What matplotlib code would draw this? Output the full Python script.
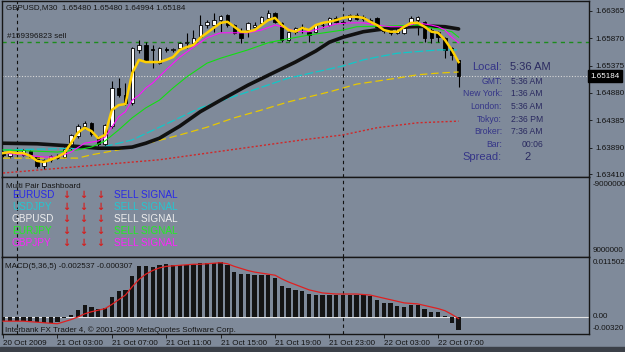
import numpy as np
import matplotlib
matplotlib.use("Agg")
import matplotlib.pyplot as plt
from matplotlib.patches import Rectangle

plt.rcParams['font.family'] = ['Liberation Sans', 'DejaVu Sans']

# =========================
# Data
# =========================
opens = [1.6378, 1.6373, 1.6379, 1.6376, 1.6383, 1.6372, 1.6355, 1.6366, 1.6373, 1.6372,
         1.6388, 1.6410, 1.6428, 1.6433, 1.6408, 1.6396, 1.6428, 1.6497, 1.6484, 1.6470,
         1.6566, 1.6575, 1.6568, 1.6542, 1.6567, 1.6566, 1.6569, 1.6578, 1.6579, 1.6589,
         1.6611, 1.6611, 1.6620, 1.6629, 1.6611, 1.6597, 1.6602, 1.6607, 1.6614, 1.6624,
         1.6633, 1.6615, 1.6584, 1.6598, 1.6605, 1.6599, 1.6599, 1.6611, 1.6611, 1.6624,
         1.6617, 1.6620, 1.6629, 1.6622, 1.6621, 1.6624, 1.6606, 1.6606, 1.6597, 1.6597,
         1.6611, 1.6621, 1.6617, 1.6602, 1.6598, 1.6588, 1.6570, 1.6548]
highs = [1.6382, 1.6380, 1.6384, 1.6386, 1.6385, 1.6374, 1.6368, 1.6376, 1.6378, 1.6390,
         1.6413, 1.6431, 1.6438, 1.6435, 1.6410, 1.6432, 1.6510, 1.6515, 1.6506, 1.6572,
         1.6584, 1.6580, 1.6575, 1.6571, 1.6572, 1.6570, 1.6581, 1.6597, 1.6602, 1.6629,
         1.6620, 1.6633, 1.6630, 1.6631, 1.6613, 1.6606, 1.6617, 1.6616, 1.6627, 1.6638,
         1.6635, 1.6617, 1.6600, 1.6608, 1.6613, 1.6601, 1.6613, 1.6615, 1.6626, 1.6627,
         1.6620, 1.6631, 1.6632, 1.6629, 1.6624, 1.6626, 1.6607, 1.6608, 1.6608, 1.6610,
         1.6627, 1.6628, 1.6619, 1.6605, 1.6600, 1.6590, 1.6572, 1.6548]
lows = [1.6372, 1.6370, 1.6375, 1.6373, 1.6370, 1.6352, 1.6351, 1.6363, 1.6368, 1.6370,
        1.6385, 1.6406, 1.6422, 1.6410, 1.6392, 1.6392, 1.6424, 1.6481, 1.6467, 1.6467,
        1.6560, 1.6545, 1.6533, 1.6540, 1.6562, 1.6563, 1.6566, 1.6569, 1.6576, 1.6587,
        1.6606, 1.6598, 1.6598, 1.6608, 1.6595, 1.6579, 1.6590, 1.6603, 1.6612, 1.6622,
        1.6615, 1.6580, 1.6582, 1.6595, 1.6597, 1.6580, 1.6597, 1.6606, 1.6609, 1.6615,
        1.6611, 1.6618, 1.6620, 1.6619, 1.6615, 1.6606, 1.6596, 1.6593, 1.6595, 1.6595,
        1.6609, 1.6593, 1.6580, 1.6579, 1.6580, 1.6551, 1.6547, 1.64994]
closes = [1.6375, 1.6379, 1.6377, 1.6384, 1.6372, 1.6356, 1.6366, 1.6373, 1.6371, 1.6387,
          1.6411, 1.6428, 1.6433, 1.6413, 1.6396, 1.6430, 1.6497, 1.6484, 1.6470, 1.6570,
          1.6575, 1.6548, 1.6565, 1.6569, 1.6566, 1.6568, 1.6578, 1.6580, 1.6588, 1.6611,
          1.6617, 1.6620, 1.6628, 1.6611, 1.6597, 1.6588, 1.6615, 1.6612, 1.6625, 1.6633,
          1.6617, 1.6584, 1.6598, 1.6606, 1.6608, 1.6593, 1.6611, 1.6612, 1.6624, 1.6617,
          1.6615, 1.6629, 1.6622, 1.6626, 1.6619, 1.6608, 1.6600, 1.6597, 1.6606, 1.6608,
          1.6624, 1.6625, 1.6588, 1.6588, 1.6589, 1.6566, 1.6557, 1.65184]

# fast yellow MA, one value per bar
ma_yellow = [1.6379, 1.6381, 1.6379, 1.6379, 1.6374, 1.6365, 1.6363, 1.6367, 1.6372, 1.6379,
             1.6397, 1.6416, 1.6425, 1.6419, 1.6406, 1.6412, 1.6457, 1.6466, 1.6468, 1.6524,
             1.6548, 1.6544, 1.6544, 1.6544, 1.6548, 1.6553, 1.6566, 1.6571, 1.6575, 1.6588,
             1.6597, 1.6606, 1.6615, 1.6617, 1.6608, 1.6599, 1.6599, 1.6602, 1.6611, 1.6620,
             1.6624, 1.6611, 1.6602, 1.6599, 1.6606, 1.6602, 1.6611, 1.6615, 1.6617, 1.6620,
             1.6624, 1.6626, 1.6626, 1.6624, 1.6617, 1.6611, 1.6602, 1.6599, 1.6599, 1.6608,
             1.6615, 1.6615, 1.6608, 1.6599, 1.6597, 1.6584, 1.6566, 1.6544]

# slower MAs, read at a few bars each
magenta_x = [0, 3, 6, 8, 10, 12, 14, 15, 16, 17, 18, 19, 20, 21, 22, 24, 26, 28, 30, 32,
             34, 36, 38, 40, 41, 43, 45, 47, 49, 51, 53, 55, 57, 59, 61, 63, 64, 65, 66, 67]
magenta_y = [1.6379, 1.6376, 1.6372, 1.6372, 1.6381, 1.6397, 1.6401, 1.6408, 1.6426, 1.6445,
             1.6454, 1.6475, 1.6484, 1.6497, 1.6506, 1.6530, 1.6553, 1.6571, 1.6588, 1.6597,
             1.6597, 1.6597, 1.6602, 1.6611, 1.6608, 1.6600, 1.6599, 1.6606, 1.6613, 1.6615,
             1.6615, 1.6611, 1.6608, 1.6608, 1.6615, 1.6611, 1.6608, 1.6602, 1.6589, 1.6579]
green_x = [0, 4, 8, 11, 13, 15, 17, 19, 21, 23, 25, 27, 30, 32, 36, 39, 41, 45, 50, 52,
           56, 61, 63, 66, 67]
green_y = [1.6385, 1.6383, 1.6381, 1.6385, 1.6390, 1.6401, 1.6421, 1.6443, 1.6461, 1.6475,
           1.6497, 1.6517, 1.6542, 1.6551, 1.6566, 1.6579, 1.6584, 1.6593, 1.6602, 1.6608,
           1.6609, 1.6611, 1.6606, 1.6599, 1.6589]
black_x = [0, 5, 10, 14, 17, 19, 21, 23, 26, 29, 32, 36, 40, 43, 46, 48, 50, 53, 56, 60,
           63, 65, 67]
black_y = [1.6397, 1.6396, 1.6392, 1.6388, 1.6388, 1.6390, 1.6397, 1.6406, 1.6428, 1.6454,
           1.6475, 1.6502, 1.6526, 1.6544, 1.6564, 1.6580, 1.6589, 1.6599, 1.6604, 1.6608,
           1.6609, 1.6608, 1.6604]
cyan_x = [0, 8, 14, 19, 23, 29, 36, 42, 46, 50, 53, 55, 58, 64, 67]
cyan_y = [1.6385, 1.6387, 1.6388, 1.6403, 1.6426, 1.6461, 1.6490, 1.6515, 1.6526, 1.6537,
          1.6548, 1.6553, 1.6560, 1.6566, 1.6566]
ydash_x = [0, 11, 13, 17, 22, 26, 30, 34, 38, 42, 45, 48, 52, 58, 61, 64, 67]
ydash_y = [1.6370, 1.6370, 1.6376, 1.6385, 1.6399, 1.6412, 1.6426, 1.6443, 1.6457, 1.6472,
           1.6481, 1.6490, 1.6504, 1.6515, 1.6521, 1.6524, 1.6526]
red_x = [0, 23, 44, 50, 55, 61, 67]
red_y = [1.6343, 1.6367, 1.6403, 1.6412, 1.6425, 1.6434, 1.6437]

# MACD histogram and signal
macd_hist = [-0.0008, -0.0008, -0.0007, -0.0007, -0.0008, -0.0010, -0.0012, -0.0011, -0.0009, -0.0002,
             0.0004, 0.0013, 0.0022, 0.0020, 0.0015, 0.0017, 0.0038, 0.0049, 0.0052, 0.0079,
             0.0098, 0.0098, 0.0095, 0.0100, 0.0102, 0.0100, 0.0100, 0.0100, 0.0102, 0.0103,
             0.0103, 0.0104, 0.0105, 0.0099, 0.0087, 0.0082, 0.0082, 0.0080, 0.0080, 0.0080,
             0.0075, 0.0060, 0.0055, 0.0052, 0.0049, 0.0044, 0.0043, 0.0043, 0.0043, 0.0043,
             0.0043, 0.0043, 0.0043, 0.0043, 0.0040, 0.0033, 0.0027, 0.0026, 0.0021, 0.0019,
             0.0023, 0.0023, 0.0015, 0.0010, 0.0010, 0.0002, -0.0011, -0.0025]
macd_signal = [-0.0008, -0.0008, -0.0008, -0.0008, -0.0009, -0.0010, -0.0011, -0.0012, -0.0013, -0.0009,
               -0.0005, 0.0000, 0.0006, 0.0010, 0.0013, 0.0016, 0.0024, 0.0033, 0.0042, 0.0058,
               0.0072, 0.0082, 0.0089, 0.0094, 0.0097, 0.0098, 0.0099, 0.0100, 0.0101, 0.0101,
               0.0102, 0.0103, 0.0104, 0.0102, 0.0097, 0.0093, 0.0089, 0.0086, 0.0084, 0.0082,
               0.0080, 0.0073, 0.0067, 0.0062, 0.0057, 0.0052, 0.0049, 0.0046, 0.0045, 0.0044,
               0.0044, 0.0044, 0.0044, 0.0043, 0.0042, 0.0039, 0.0036, 0.0033, 0.0030, 0.0027,
               0.0026, 0.0025, 0.0022, 0.0019, 0.0016, 0.0012, 0.0005, -0.0003]

price_ticks = [1.66365, 1.65870, 1.65375, 1.64880, 1.64385, 1.63890, 1.63410]
last_price = 1.65184
order_price = 1.6580
day_breaks = [2, 50]
time_ticks = [0, 8, 16, 24, 32, 40, 48, 56, 64]
time_labels = ["20 Oct 2009", "21 Oct 03:00", "21 Oct 07:00", "21 Oct 11:00", "21 Oct 15:00",
               "21 Oct 19:00", "21 Oct 23:00", "22 Oct 03:00", "22 Oct 07:00"]

pairs = ["EURUSD", "USDJPY", "GBPUSD", "EURJPY", "GBPJPY"]
pair_colors = ["#2a2ae6", "#22c8d2", "#eeeeee", "#22ee22", "#ff22ff"]

clock_labels = ["GMT:", "New York:", "London:", "Tokyo:", "Broker:"]
clock_values = ["5:36 AM", "1:36 AM", "5:36 AM", "2:36 PM", "7:36 AM"]

# =========================
# Figure setup (pixel layout of the MT4 window)
# =========================
W, H = 625, 352
BG = "#7f8a9a"
FS = 5.8
XL = (-0.15, 86.18)

fig = plt.figure(figsize=(6.25, 3.52), dpi=100, facecolor=BG)


def box(x0, y0, x1, y1):
    return [x0 / W, 1 - y1 / H, (x1 - x0) / W, (y1 - y0) / H]


def ftext(x, y, s, **kw):
    kw.setdefault("va", "center")
    kw.setdefault("fontsize", FS)
    fig.text(x / W, 1 - y / H, s, **kw)


def style(ax):
    ax.set_facecolor(BG)
    for sp in ax.spines.values():
        sp.set_color("#161616")
        sp.set_linewidth(1.0)
    ax.set_xlim(*XL)
    for d in day_breaks:
        ax.axvline(d, color="#111111", lw=0.8, ls=(0, (3, 3)), zorder=1)


ax = fig.add_axes(box(2, 1, 589, 177))
ax_d = fig.add_axes(box(2, 177, 589, 257))
ax_m = fig.add_axes(box(2, 257, 589, 334))
for a in (ax, ax_d, ax_m):
    style(a)

# =========================
# Main price panel
# =========================
idx = np.arange(len(closes))
o = np.array(opens)
c = np.array(closes)
ax.vlines(idx, lows, highs, color="black", lw=0.8, zorder=2)
ax.bar(idx, np.abs(c - o), bottom=np.minimum(o, c), width=0.5,
       color=np.where(c >= o, "white", "black"), edgecolor="black", lw=0.6, zorder=3)

ax.plot(red_x, red_y, color="#d02828", lw=1.0, ls=(0, (1.5, 1.5)), zorder=4)
ax.plot(ydash_x, ydash_y, color="#e8c800", lw=0.9, ls=(0, (6, 3)), zorder=4)
ax.plot(cyan_x, cyan_y, color="#10c8c8", lw=0.9, ls=(0, (7, 2)), zorder=4)
ax.plot(black_x, black_y, color="#111111", lw=2.6, zorder=5, solid_capstyle="round")
ax.plot(green_x, green_y, color="#11e011", lw=0.8, zorder=5)
ax.plot(magenta_x, magenta_y, color="#ff10ff", lw=0.8, zorder=6)
ax.plot(idx, ma_yellow, color="#ffd000", lw=1.8, zorder=7)

ax.axhline(order_price, color="#1c8c1c", lw=1.0, ls=(0, (3, 3)), zorder=1)
ax.axhline(last_price, color="#d6d6d6", lw=0.8, ls=(0, (1, 1.5)), zorder=1)

ax.set_ylim(1.63358, 1.66546)
ax.set_xticks([])
ax.yaxis.tick_right()
ax.set_yticks(price_ticks)
ax.set_yticklabels([f"{v:.5f}" for v in price_ticks])
ax.tick_params(axis="y", length=2.5, width=0.6, pad=2, labelsize=FS, colors="#111111")
ax.text(1.002, last_price, f"{last_price:.5f}", transform=ax.get_yaxis_transform(),
        color="white", fontsize=FS, va="center", ha="left", clip_on=False, zorder=10,
        bbox=dict(boxstyle="square,pad=0.3", fc="black", ec="black"))

ftext(6, 8, "GBPUSD,M30  1.65480 1.65480 1.64994 1.65184", color="#151515")
ftext(7, 36, "#159396823 sell", color="#151515")

# clock block
NAVY = "#353588"
ftext(502, 67, "Local:", ha="right", fontsize=8, color=NAVY)
ftext(510, 67, "5:36 AM", ha="left", fontsize=8, color="#2a2a60")
for k, (lab, val) in enumerate(zip(clock_labels, clock_values)):
    yy = 81 + k * 12.7
    ftext(502, yy, lab, ha="right", fontsize=6.2, color=NAVY)
    ftext(511, yy, val, ha="left", fontsize=6.2, color="#2a2a60")
ftext(502, 144, "Bar:", ha="right", fontsize=6.2, color=NAVY)
ftext(522, 144, "00:06", ha="left", fontsize=6.2, color="#2a2a60")
ftext(502, 157, "Spread:", ha="right", fontsize=8, color=NAVY)
ftext(524, 157, "2", ha="left", fontsize=8, color="#2a2a60")

# =========================
# Dashboard panel
# =========================
ax_d.set_xticks([])
ax_d.set_yticks([])
ftext(6, 186, "Multi Pair Dashboard", color="#151515")
for k, (p, col) in enumerate(zip(pairs, pair_colors)):
    yy = 195 + k * 12.1
    ftext(12, yy, p, color=col, fontsize=7.2)
    for xa in (66, 83, 100):
        ftext(xa, yy, "\u2193", color="#d42020", fontsize=7, ha="center",
              family=["DejaVu Sans"], fontweight="bold")
    ftext(114, yy, "SELL SIGNAL", color=col, fontsize=7.2)
ftext(593, 184, "-9000000", color="#151515")
ftext(593, 250, "9000000", color="#151515")

# =========================
# MACD panel
# =========================
ax_m.bar(idx, macd_hist, width=0.62, color="#141414", zorder=2)
ax_m.plot(idx, macd_signal, color="#e02020", lw=0.9, zorder=3)
ax_m.axhline(0, color="#e6e6e6", lw=0.8, zorder=1)
ax_m.set_ylim(-0.00326, 0.01149)
ax_m.set_yticks([])
ax_m.set_xticks(time_ticks)
ax_m.set_xticklabels(time_labels)
ax_m.tick_params(axis="x", length=3, width=0.6, pad=1.5, labelsize=FS, colors="#111111")
for lbl in ax_m.get_xticklabels():
    lbl.set_ha("left")

ftext(5, 266, "MACD(5,36,5) -0.002537 -0.000307", color="#151515")
ftext(5, 330, "Interbank FX Trader 4, \u00a9 2001-2009 MetaQuotes Software Corp.", color="#151515")
ftext(593, 263, "0.011502", color="#151515")
ftext(593, 317, "0.00", color="#151515")
ftext(593, 329, "-0.00320", color="#151515")

# window frame at the bottom
fig.add_artist(Rectangle((0, 0), 1, 5 / H, transform=fig.transFigure,
                         color="#3b4048", zorder=0))

plt.savefig("out.png", dpi=100, facecolor=BG)
